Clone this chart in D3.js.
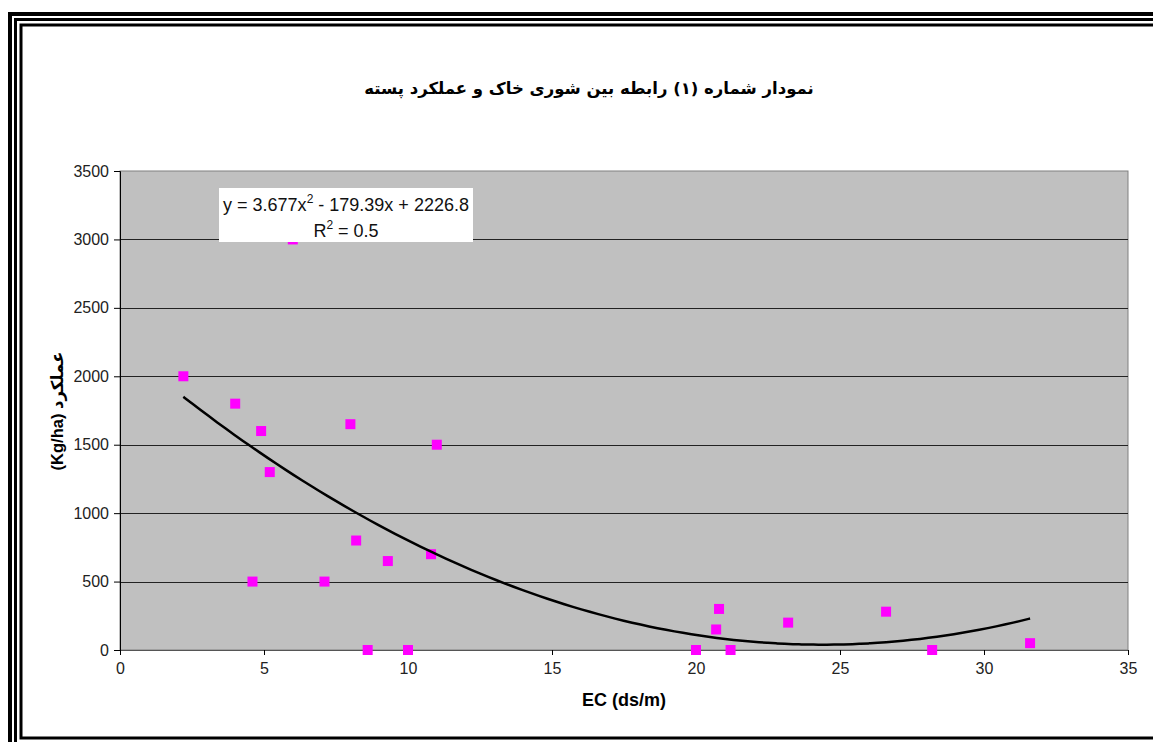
<!DOCTYPE html>
<html>
<head>
<meta charset="utf-8">
<script src="https://cdn.jsdelivr.net/npm/d3@7"></script>
<style>
  html, body { margin: 0; padding: 0; background: #fff; }
  svg { display: block; }
  .tick text { font-family: "Liberation Sans", Arial, sans-serif; font-size: 16px; fill: #222; }
</style>
</head>
<body>
<svg id="chart"></svg>
<script>
// salinity (EC) vs pistachio yield
const ecValues = [2.2, 4.0, 4.9, 5.2, 4.6, 6.0, 8.0, 8.2, 7.1, 9.3, 10.8, 11.0, 8.6, 10.0,
                  20.0, 20.7, 20.8, 21.2, 23.2, 26.6, 28.2, 31.6];
const yieldValues = [2000, 1800, 1600, 1300, 500, 3000, 1650, 800, 500, 650, 700, 1500, 0, 0,
                     0, 150, 300, 0, 200, 280, 0, 50];
const trendCoef = [2226.8, -179.39, 3.677]; // c0 + c1*x + c2*x^2
const xTicks = [0, 5, 10, 15, 20, 25, 30, 35];
const yTicks = [0, 500, 1000, 1500, 2000, 2500, 3000, 3500];
const titleText = 'نمودار شماره (۱) رابطه بین شوری خاک و عملکرد پسته';
const xLabel = 'EC (ds/m)';
const yLabel = 'عملکرد (Kg/ha)';

const W = 1153, H = 742;
const margin = { top: 171, left: 120, right: 25, bottom: 92 };
const width = W - margin.left - margin.right;
const height = H - margin.top - margin.bottom;

const svg = d3.select('#chart')
    .attr('width', W)
    .attr('height', H);

// triple frame
svg.append('rect').attr('x', 10).attr('y', 14).attr('width', W + 20).attr('height', H + 20)
    .attr('fill', 'none').attr('stroke', '#000').attr('stroke-width', 4);
svg.append('rect').attr('x', 15.5).attr('y', 19.5).attr('width', W + 20).attr('height', H + 20)
    .attr('fill', 'none').attr('stroke', '#000').attr('stroke-width', 3);
svg.append('rect').attr('x', 21).attr('y', 25).attr('width', W + 20).attr('height', 713)
    .attr('fill', 'none').attr('stroke', '#000').attr('stroke-width', 3);

svg.append('text')
    .attr('x', 589).attr('y', 94)
    .attr('text-anchor', 'middle')
    .attr('direction', 'rtl')
    .style('font-family', '"DejaVu Sans", sans-serif')
    .style('font-weight', 'bold')
    .style('font-size', '16.5px')
    .text(titleText);

const graph = svg.append('g')
    .attr('transform', `translate(${margin.left}, ${margin.top})`);

const x = d3.scaleLinear().domain([0, 35]).range([0, width]);
const y = d3.scaleLinear().domain([0, 3500]).range([height, 0]);

graph.append('rect')
    .attr('width', width).attr('height', height)
    .attr('fill', '#c0c0c0')
    .attr('stroke', '#808080');

const yAxis = d3.axisLeft(y)
    .tickValues(yTicks)
    .tickSize(6)
    .tickPadding(5)
    .tickFormat(d3.format('d'));

const xAxis = d3.axisBottom(x)
    .tickValues(xTicks)
    .tickSize(5)
    .tickPadding(8)
    .tickFormat(d3.format('d'));

// gridlines
graph.append('g')
    .selectAll('line')
    .data(yTicks.filter(d => d > 0 && d < 3500))
  .enter().append('line')
    .attr('x1', 0).attr('x2', width)
    .attr('y1', d => Math.round(y(d)) + 0.5)
    .attr('y2', d => Math.round(y(d)) + 0.5)
    .attr('stroke', '#222');

graph.append('g')
    .attr('class', 'y-axis')
    .call(yAxis)
    .call(g => g.select('.domain').attr('stroke', '#000'))
    .call(g => g.selectAll('.tick line').attr('stroke', '#000'));

graph.append('g')
    .attr('class', 'x-axis')
    .attr('transform', `translate(0, ${height})`)
    .call(xAxis)
    .call(g => g.select('.domain').attr('stroke', '#555'))
    .call(g => g.selectAll('.tick line').attr('stroke', '#000'));

// points
graph.append('g')
    .attr('fill', '#ff00ff')
    .selectAll('rect')
    .data(ecValues.map((e, i) => [e, yieldValues[i]]))
  .enter().append('rect')
    .attr('x', d => x(d[0]) - 5)
    .attr('y', d => y(d[1]) - 5)
    .attr('width', 10)
    .attr('height', 10);

// polynomial trendline
const xMin = d3.min(ecValues), xMax = d3.max(ecValues);
const trend = d3.range(0, 101).map(i => {
  const xv = xMin + (xMax - xMin) * i / 100;
  return [xv, trendCoef[0] + trendCoef[1] * xv + trendCoef[2] * xv * xv];
});
graph.append('path')
    .datum(trend)
    .attr('fill', 'none')
    .attr('stroke', '#000')
    .attr('stroke-width', 2.5)
    .attr('d', d3.line().x(d => x(d[0])).y(d => y(d[1])).curve(d3.curveBasis));

// equation label
const eq = svg.append('g');
eq.append('rect')
    .attr('x', 219).attr('y', 188).attr('width', 254).attr('height', 54)
    .attr('fill', '#fff');
const eqText = eq.append('text')
    .attr('x', 346).attr('y', 211)
    .attr('text-anchor', 'middle')
    .style('font-family', '"Liberation Sans", Arial, sans-serif')
    .style('font-size', '18px')
    .style('fill', '#111');
eqText.append('tspan').text('y = 3.677x');
eqText.append('tspan').attr('dy', -8).style('font-size', '12px').text('2');
eqText.append('tspan').attr('dy', 8).text(' - 179.39x + 2226.8');
const r2 = eq.append('text')
    .attr('x', 346).attr('y', 237)
    .attr('text-anchor', 'middle')
    .style('font-family', '"Liberation Sans", Arial, sans-serif')
    .style('font-size', '18px')
    .style('fill', '#111');
r2.append('tspan').text('R');
r2.append('tspan').attr('dy', -8).style('font-size', '12px').text('2');
r2.append('tspan').attr('dy', 8).text(' = 0.5');

// axis titles
svg.append('text')
    .attr('x', 624).attr('y', 706)
    .attr('text-anchor', 'middle')
    .style('font-family', '"Liberation Sans", Arial, sans-serif')
    .style('font-weight', 'bold')
    .style('font-size', '18px')
    .text(xLabel);

svg.append('text')
    .attr('transform', 'translate(63, 411) rotate(-90)')
    .attr('text-anchor', 'middle')
    .attr('direction', 'rtl')
    .style('font-family', '"Liberation Sans", "DejaVu Sans", sans-serif')
    .style('font-weight', 'bold')
    .style('font-size', '16.5px')
    .text(yLabel);
</script>
</body>
</html>
